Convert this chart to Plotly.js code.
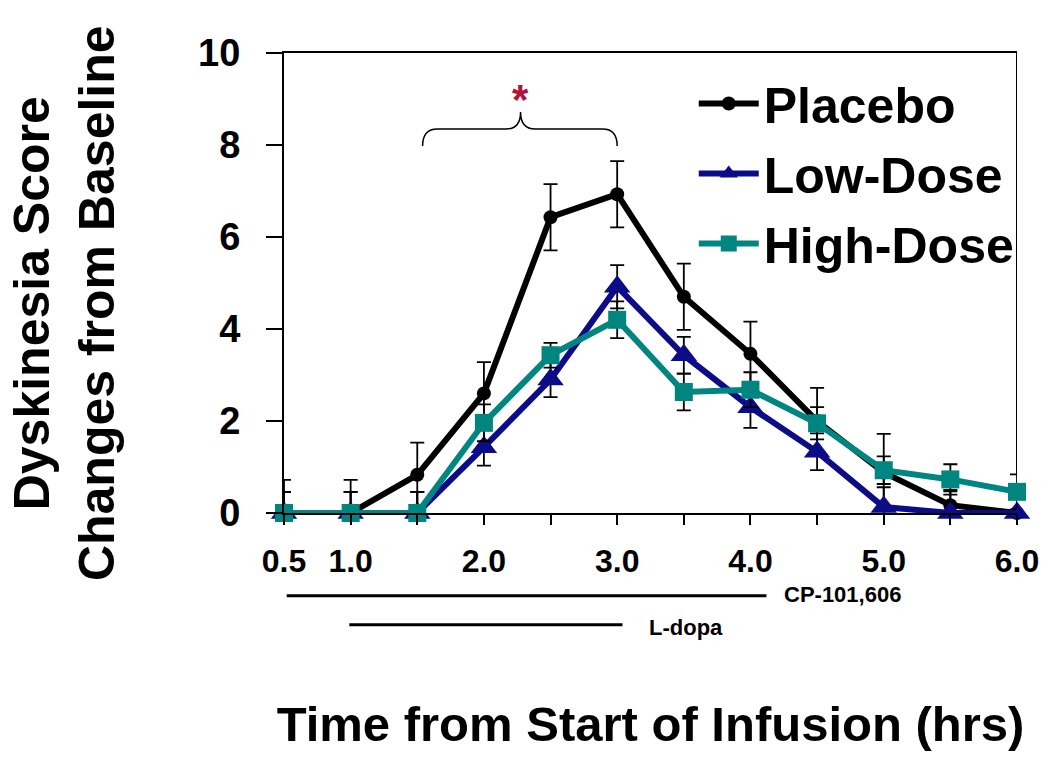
<!DOCTYPE html>
<html>
<head>
<meta charset="utf-8">
<script src="https://cdn.plot.ly/plotly-3.0.1.min.js"></script>
<style>html,body{margin:0;padding:0;background:#fff;}#chart{width:1050px;height:771px;}</style>
</head>
<body>
<div id="chart"></div>
<script>
// ---- data ----
var time = [0.5, 1.0, 1.5, 2.0, 2.5, 3.0, 3.5, 4.0, 4.5, 5.0, 5.5, 6.0];
var placebo = [0, 0, 0.83, 2.6, 6.43, 6.93, 4.7, 3.46, 2.0, 0.88, 0.17, 0];
var placeboErr = [0.72, 0.72, 0.7, 0.68, 0.72, 0.72, 0.72, 0.7, 0.72, 0.84, 0.3, 0.5];
var lowDose = [0, 0, 0, 1.43, 2.9, 4.92, 3.43, 2.3, 1.33, 0.13, 0, 0];
var lowDoseErr = [0.46, 0.46, 0.46, 0.4, 0.38, 0.47, 0.4, 0.45, 0.4, 0.43, 0.5, 0.48];
var highDose = [0, 0, 0, 1.96, 3.43, 4.2, 2.63, 2.68, 1.95, 0.93, 0.73, 0.46];
var highDoseErr = [0.46, 0.46, 0.46, 0.4, 0.27, 0.4, 0.4, 0.38, 0.35, 0.3, 0.33, 0.38];
var xTickVals = [0.5, 1.0, 1.5, 2.0, 2.5, 3.0, 3.5, 4.0, 4.5, 5.0, 5.5, 6.0];
var xTickText = ['0.5', '1.0', '', '2.0', '', '3.0', '', '4.0', '', '5.0', '', '6.0'];
var yTickVals = [0, 2, 4, 6, 8, 10];
var cpInfusion = [0.52, 4.12];   // CP-101,606 infusion period (hrs)
var ldopaInfusion = [0.99, 3.04]; // L-dopa infusion period (hrs)
var sigRange = [1.54, 3.0];      // bracketed significant interval

var FONT = 'Arial, "Liberation Sans", sans-serif';

function series(name, y, err, color, symbol, size, group) {
  return {
    type: 'scatter', mode: 'lines+markers', name: name, x: time, y: y,
    legendgroup: group, cliponaxis: false,
    line: {color: color, width: 6},
    marker: {color: color, symbol: symbol, size: size},
    error_y: {type: 'data', array: err, visible: true, color: '#000', thickness: 1.8, width: 7}
  };
}

var traces = [
  series('Placebo', placebo, placeboErr, '#000000', 'circle', 14, 'a'),
  series('Low-Dose', lowDose, lowDoseErr, '#0c0c88', 'triangle-up', 23, 'b'),
  series('High-Dose', highDose, highDoseErr, '#008580', 'square', 18, 'c')
];

var mid = (sigRange[0] + sigRange[1]) / 2 + 0.005;
var bracePath = 'M' + sigRange[0] + ',7.98 Q' + sigRange[0] + ',8.35 ' + (sigRange[0] + 0.11) + ',8.35' +
  ' L' + (mid - 0.11) + ',8.35 Q' + mid + ',8.35 ' + mid + ',8.72' +
  ' Q' + mid + ',8.35 ' + (mid + 0.11) + ',8.35 L' + (sigRange[1] - 0.11) + ',8.35' +
  ' Q' + sigRange[1] + ',8.35 ' + sigRange[1] + ',7.98';

var layout = {
  width: 1050, height: 771,
  margin: {l: 284, r: 33, t: 53, b: 258},
  paper_bgcolor: '#fff', plot_bgcolor: '#fff',
  font: {family: FONT, color: '#000'},
  showlegend: true,
  legend: {
    x: 0.559, y: 0.975, xanchor: 'left', yanchor: 'top',
    font: {family: FONT, size: 50, weight: 700, color: '#000'},
    itemwidth: 60, traceorder: 'grouped', tracegroupgap: 2,
    bgcolor: 'rgba(0,0,0,0)', borderwidth: 0
  },
  xaxis: {
    range: [0.5, 6.0], tickmode: 'array', tickvals: xTickVals, ticktext: xTickText,
    ticks: 'outside', ticklen: 10, tickwidth: 2, tickcolor: '#000',
    showline: true, linewidth: 2, linecolor: '#000', mirror: true,
    showgrid: false, zeroline: false, automargin: false,
    tickfont: {family: FONT, size: 32, weight: 700, color: '#000'},
    ticklabelstandoff: 9,
    title: {text: 'Time from Start of Infusion (hrs)', standoff: 128,
            font: {family: FONT, size: 49, weight: 700, color: '#000'}}
  },
  yaxis: {
    range: [0, 10], tickmode: 'array', tickvals: yTickVals,
    ticks: 'outside', ticklen: 16, tickwidth: 2, tickcolor: '#000',
    showline: true, linewidth: 2, linecolor: '#000',
    showgrid: false, zeroline: false, automargin: false,
    tickfont: {family: FONT, size: 38, weight: 700, color: '#000'},
    ticklabelstandoff: 18
  },
  shapes: [
    {type: 'line', xref: 'x', yref: 'y', x0: 6.0, x1: 6.0, y0: 0.85, y1: 10, line: {color: '#000', width: 2}},
    {type: 'path', xref: 'x', yref: 'y', path: bracePath, line: {color: '#000', width: 1.5}},
    {type: 'line', xref: 'x', yref: 'paper', x0: cpInfusion[0], x1: cpInfusion[1], y0: -0.18, y1: -0.18, line: {color: '#000', width: 3}},
    {type: 'line', xref: 'x', yref: 'paper', x0: ldopaInfusion[0], x1: ldopaInfusion[1], y0: -0.243, y1: -0.243, line: {color: '#000', width: 3}}
  ],
  annotations: [
    {xref: 'paper', yref: 'paper', x: -0.300, y: 0.4565, text: 'Dyskinesia Score<br>Changes from Baseline',
     textangle: -90, showarrow: false, xanchor: 'center', yanchor: 'middle',
     font: {family: FONT, size: 50, weight: 700, color: '#000'}},
    {xref: 'x', yref: 'y', x: mid, y: 8.98, text: '*', showarrow: false, yanchor: 'middle',
     font: {family: FONT, size: 42, weight: 700, color: '#b5123e'}},
    {xref: 'x', yref: 'paper', x: cpInfusion[1] + 0.12, y: -0.178, text: 'CP-101,606', showarrow: false,
     xanchor: 'left', yanchor: 'middle', font: {family: FONT, size: 22, weight: 700, color: '#000'}},
    {xref: 'x', yref: 'paper', x: ldopaInfusion[1] + 0.18, y: -0.248, text: 'L-dopa', showarrow: false,
     xanchor: 'left', yanchor: 'middle', font: {family: FONT, size: 22, weight: 700, color: '#000'}}
  ]
};

Plotly.newPlot('chart', traces, layout, {staticPlot: true, displayModeBar: false});
</script>
</body>
</html>
